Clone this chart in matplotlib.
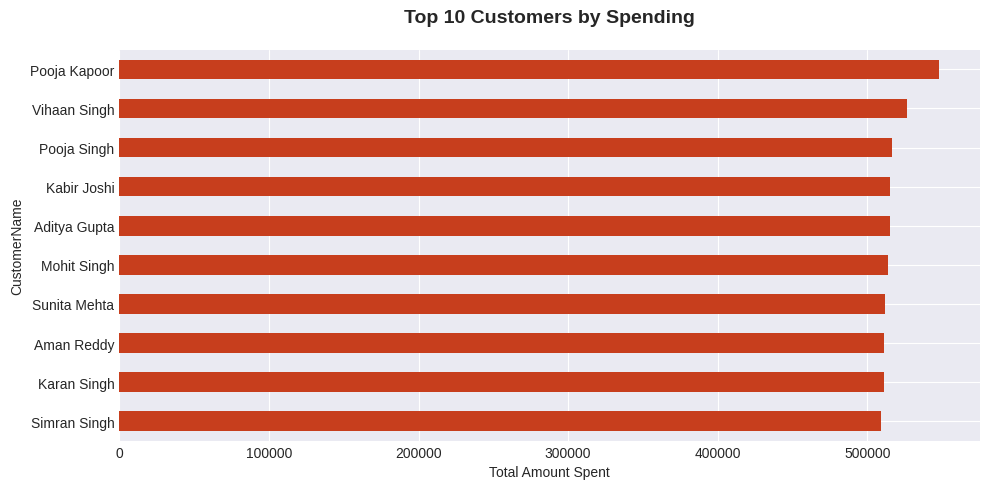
import matplotlib
matplotlib.use("Agg")
import matplotlib.pyplot as plt

# top 10 customers, highest first
customers = ["Pooja Kapoor", "Vihaan Singh", "Pooja Singh", "Kabir Joshi", "Aditya Gupta",
             "Mohit Singh", "Sunita Mehta", "Aman Reddy", "Karan Singh", "Simran Singh"]
spent = [547900, 526500, 516500, 515200, 515100, 513800, 511800, 511200, 511100, 509200]

plt.style.use("seaborn-v0_8-darkgrid")
plt.rcParams['font.family'] = ['Liberation Sans', 'DejaVu Sans']

fig = plt.figure(figsize=(9.89, 4.89), dpi=100)
ax = fig.add_axes([119.3/989, 1 - 441.8/489, (980 - 119.3)/989, (441.8 - 50.8)/489])

# reverse so the biggest spender is on top
ypos = list(range(len(customers)))
ax.barh(ypos, spent[::-1], height=0.5, color="#C73E1D", zorder=2)
ax.set_yticks(ypos)
ax.set_yticklabels(customers[::-1])
ax.set_ylim(-0.5, len(customers) - 0.5)
ax.set_xlim(0, max(spent) * 1.05)

ax.set_title("Top 10 Customers by Spending", fontsize=14, fontweight="bold", pad=20)
ax.set_xlabel("Total Amount Spent")
ax.set_ylabel("CustomerName")

fig.savefig("out.png", dpi=100)
